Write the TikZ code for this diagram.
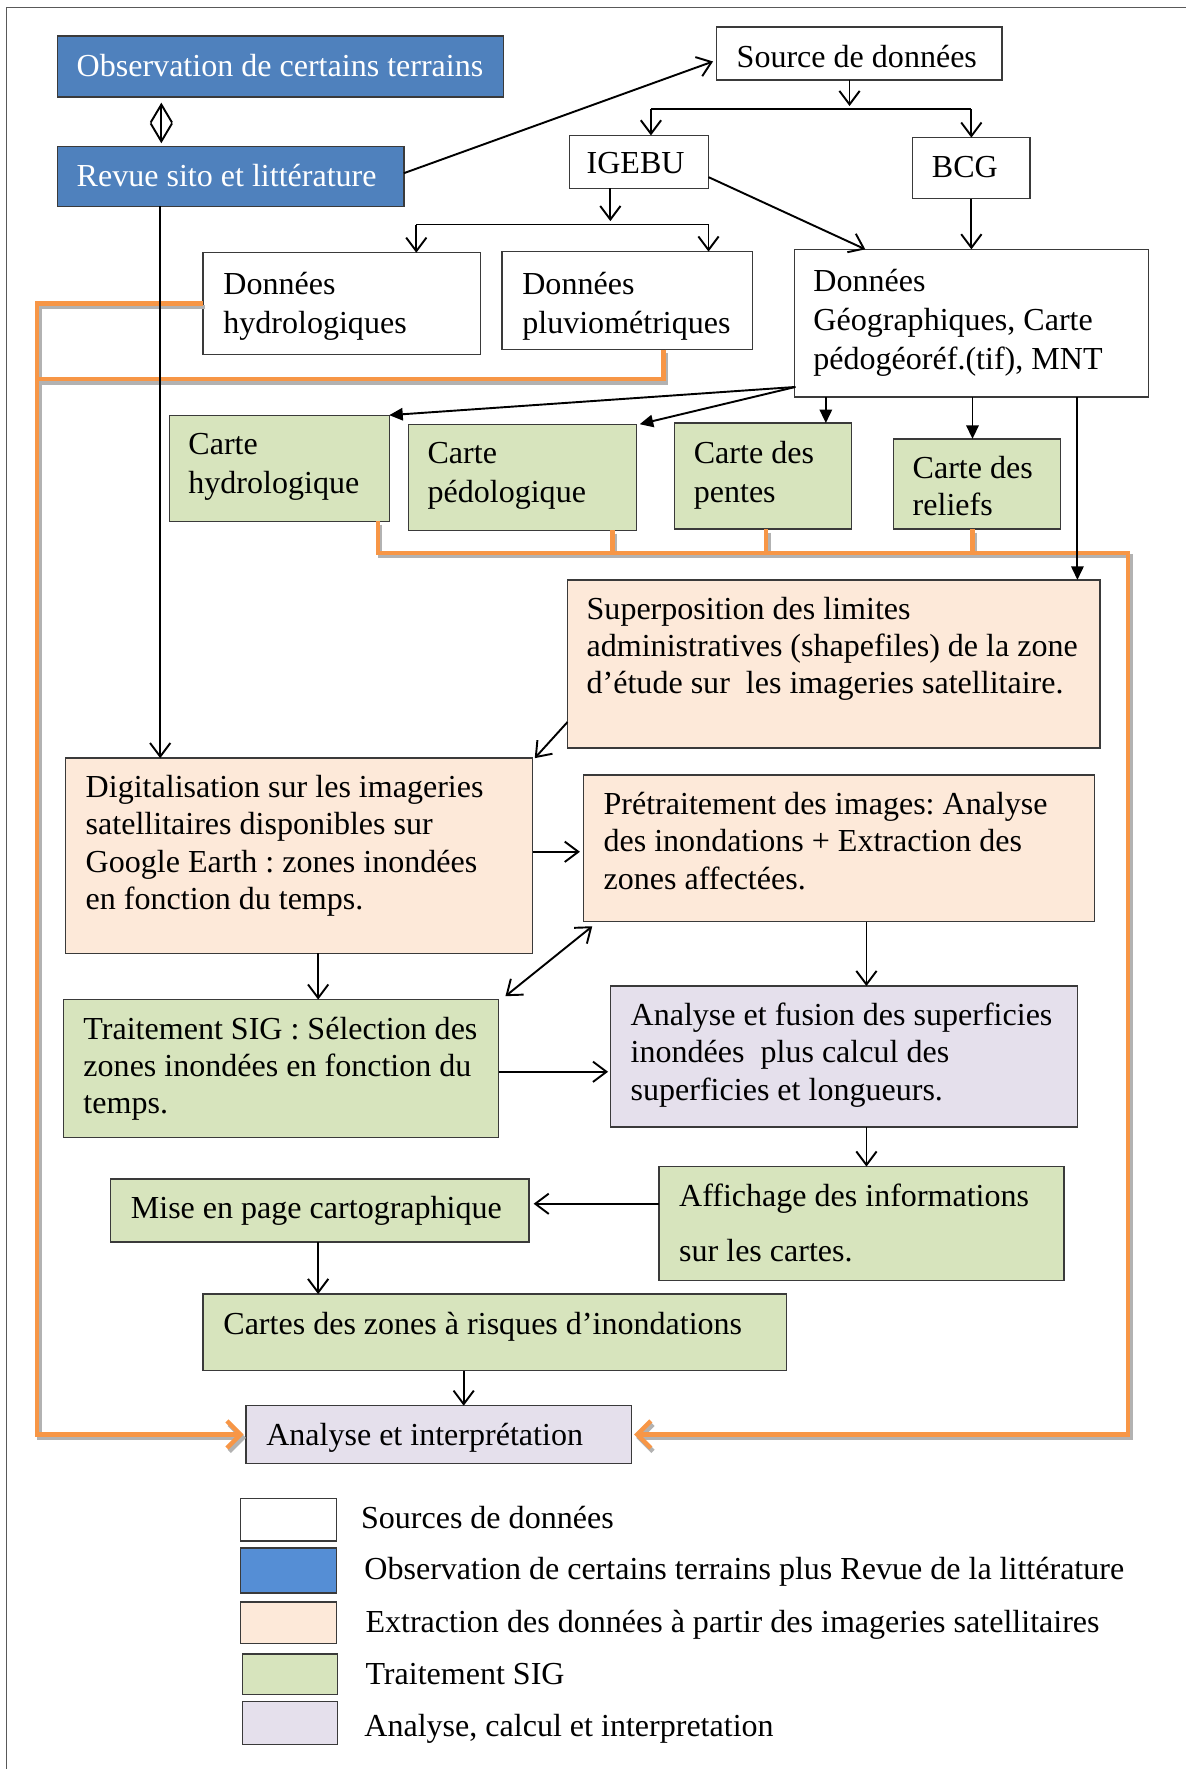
\documentclass[tikz,border=0pt]{standalone}
\usepackage{fontspec}
\setmainfont{Liberation Serif}
\usetikzlibrary{arrows.meta,calc}
\definecolor{cblue}{HTML}{4F81BD}
\definecolor{lblue}{HTML}{558ED5}
\definecolor{cpeach}{HTML}{FDE9D9}
\definecolor{cgreen}{HTML}{D7E4BD}
\definecolor{clav}{HTML}{E5E0EC}
\definecolor{corange}{HTML}{F79646}
\definecolor{cborder}{HTML}{3A3A3A}
\newcommand\orangeroutes[1]{%
  \draw[line width=4pt, draw=#1, line join=miter, -{Straight Barb[length=12pt,width=24pt]}, shorten >=2pt]
    (dhydro.west) -- (33,0 |- dhydro.west) -- (33,0 |- interp.west) -- (interp.west);
  \draw[line width=4pt, draw=#1, line join=miter]
    (588,0 |- dpluvio.south) -- (588,336) -- (33,336);
  \draw[line width=4pt, draw=#1, line join=miter, -{Straight Barb[length=12pt,width=24pt]}, shorten >=2pt]
    (335,0 |- chydro.south) -- (335,490) -- (1000,490) -- (1000,0 |- interp.east) -- (interp.east);
  \draw[line width=4pt, draw=#1] (543,0 |- cpedo.south) -- (543,490);
  \draw[line width=4pt, draw=#1] (679,0 |- cpentes.south) -- (679,490);
  \draw[line width=4pt, draw=#1] (862,0 |- creliefs.south) -- (862,490);
}
\begin{document}
\frenchspacing
\begin{tikzpicture}[x=1pt,y=-1pt,
  bx/.style 2 args={draw=cborder, line width=1.2pt, anchor=north west, inner sep=0pt, outer sep=0pt,
    minimum width=#1pt, minimum height=#2pt},
  txt/.style={anchor=north west, inner sep=0pt, outer sep=0pt, align=left,
    font=\fontsize{28.4}{33}\selectfont\frenchspacing},
  dl/.style={font=\fontsize{28.4}{34.5}\selectfont\frenchspacing},
  ln/.style={draw=black, line width=1.7pt},
  arr/.style={ln, -{Straight Barb[length=12pt,width=18pt]}},
  farr/.style={ln, -{Triangle[length=12pt,width=11pt]}},
  darr/.style={ln, {Straight Barb[length=12pt,width=18pt]}-{Straight Barb[length=12pt,width=18pt]}},
  kite/.style={ln, {Straight Barb[length=16pt,width=19pt]}-{Straight Barb[length=16pt,width=19pt]}}
]
\useasboundingbox (0,0) rectangle (1051,1568);
\draw[draw=gray!70!black, line width=1pt] (6,1568) -- (6,7) -- (1051,7);

% ---------- boxes ----------
\node[bx={395}{54}, fill=cblue] (obs) at (51,32) {};
\node[txt, text=white] (tobs) at (68,45) {\strut Observation de certains terrains};
\node[bx={307}{53}, fill=cblue] (revue) at (51,130) {};
\node[txt, text=white] (trevue) at (68,142) {\strut Revue sito et littérature};
\node[bx={253}{47}, fill=white] (source) at (635,24) {};
\node[txt] (tsource) at (653,37) {\strut Source de données};
\node[bx={123}{47}, fill=white] (igebu) at (505,120) {};
\node[txt] (tigebu) at (520,131) {\strut IGEBU};
\node[bx={104}{54}, fill=white] (bcg) at (809,122) {};
\node[txt] (tbcg) at (826,134) {\strut BCG};
\node[bx={246}{90}, fill=white] (dhydro) at (180,224) {};
\node[txt, dl] (tdhydro) at (198,237) {\strut Données\\hydrologiques};
\node[bx={222}{87}, fill=white] (dpluvio) at (445,223) {};
\node[txt, dl] (tdpluvio) at (463,237) {\strut Données\\pluviométriques};
\node[bx={314}{131}, fill=white] (geo) at (704,221) {};
\node[txt, dl] (tgeo) at (721,234) {\strut Données\\Géographiques, Carte\\pédogéoréf.(tif), MNT};

\node[bx={195}{94}, fill=cgreen] (chydro) at (150,368) {};
\node[txt, dl] (tchydro) at (167,379) {\strut Carte\\hydrologique};
\node[bx={202}{94}, fill=cgreen] (cpedo) at (362,376) {};
\node[txt, dl] (tcpedo) at (379,387) {\strut Carte\\pédologique};
\node[bx={157}{94}, fill=cgreen] (cpentes) at (598,375) {};
\node[txt, dl] (tcpentes) at (615,387) {\strut Carte des\\pentes};
\node[bx={148}{80}, fill=cgreen] (creliefs) at (792,389) {};
\node[txt] (tcreliefs) at (809,401) {\strut Carte des\\reliefs};

\node[bx={472}{149}, fill=cpeach] (superp) at (503,514) {};
\node[txt] (tsuperp) at (520,526) {\strut Superposition des limites\\administratives (shapefiles) de la zone\\d’étude sur\ \ les imageries satellitaire.};
\node[bx={414}{173}, fill=cpeach] (digit) at (58,672) {};
\node[txt] (tdigit) at (76,684) {\strut Digitalisation sur les imageries\\satellitaires disponibles sur\\Google Earth : zones inondées\\en fonction du temps.};
\node[bx={453}{130}, fill=cpeach] (pretr) at (517,687) {};
\node[txt] (tpretr) at (535,699) {\strut Prétraitement des images: Analyse\\des inondations + Extraction des\\zones affectées.};
\node[bx={386}{122}, fill=cgreen] (trsig) at (56,886) {};
\node[txt] (ttrsig) at (74,898) {\strut Traitement SIG : Sélection des\\zones inondées en fonction du\\temps.};
\node[bx={414}{125}, fill=clav] (fusion) at (541,874) {};
\node[txt] (tfusion) at (559,886) {\strut Analyse et fusion des superficies\\inondées\ \ plus calcul des\\superficies et longueurs.};
\node[bx={359}{101}, fill=cgreen] (affich) at (584,1034) {};
\node[txt] (taffich) at (602,1046) {\strut Affichage des informations\\[16pt]sur les cartes.};
\node[bx={371}{56}, fill=cgreen] (mise) at (98,1045) {};
\node[txt] (tmise) at (116,1057) {\strut Mise en page cartographique};
\node[bx={517}{68}, fill=cgreen] (cartes) at (180,1147) {};
\node[txt] (tcartes) at (198,1160) {\strut Cartes des zones à risques d’inondations};
\node[bx={342}{51}, fill=clav] (interp) at (218,1246) {};
\node[txt] (tinterp) at (236,1258) {\strut Analyse et interprétation};

% ---------- legend ----------
\node[bx={85}{38}, fill=white] (l1) at (213,1328) {};
\node[txt] (tl1) at (320,1332) {\strut Sources de données};
\node[bx={85}{40}, fill=lblue] (l2) at (213,1372) {};
\node[txt] (tl2) at (323,1377) {\strut Observation de certains terrains plus Revue de la littérature};
\node[bx={85}{37}, fill=cpeach] (l3) at (213,1420) {};
\node[txt] (tl3) at (324,1424) {\strut Extraction des données à partir des imageries satellitaires};
\node[bx={84}{36}, fill=cgreen] (l4) at (215,1466) {};
\node[txt] (tl4) at (324,1470) {\strut Traitement SIG};
\node[bx={84}{38}, fill=clav] (l5) at (215,1508) {};
\node[txt] (tl5) at (323,1516) {\strut Analyse, calcul et interpretation};

% ---------- orange routes with shadow ----------
\begin{scope}[transform canvas={shift={(2pt,-3pt)}}]
  \orangeroutes{gray!60}
\end{scope}
\orangeroutes{corange}

% ---------- black connectors ----------
\draw[kite] ($(143,0 |- obs.south)+(0,5)$) -- ($(143,0 |- revue.north)+(0,-3)$);
\draw[arr] ($(revue.east)+(0,-3)$) -- ($(source.west)+(-3,7)$);
\draw[arr] (753,0 |- source.south) -- (753,94);
\coordinate (sl) at (577,97);
\coordinate (sr) at (861,97);
\draw[ln] (sl) -- (sr);
\draw[arr] (sl) -- (577,0 |- igebu.north);
\draw[arr] (sr) -- (861,0 |- bcg.north);
\draw[arr] (541,0 |- igebu.south) -- (541,196);
\coordinate (il) at (369,199);
\coordinate (ir) at (628,199);
\draw[ln] (il) -- (ir);
\draw[arr] (il) -- (369,0 |- dhydro.north);
\draw[arr] (ir) -- (628,0 |- dpluvio.north);
\draw[arr] ($(igebu.south east)+(0,-10)$) -- (767,0 |- geo.north);
\draw[arr] (861,0 |- bcg.south) -- (861,0 |- geo.north);

\draw[farr] ($(geo.south west)+(1,-9)$) -- (chydro.north east);
\draw[farr] ($(geo.south west)+(1,-9)$) -- ($(cpedo.north east)+(3,0)$);
\draw[farr] (732,0 |- geo.south) -- (732,0 |- cpentes.north);
\draw[farr] (862,0 |- geo.south) -- (862,0 |- creliefs.north);
\draw[farr] (955,0 |- geo.south) -- (955,0 |- superp.north);

\draw[arr] (142,0 |- revue.south) -- (142,0 |- digit.north);
\draw[arr] ($(superp.south west)+(0,-23)$) -- ($(digit.north east)+(2,0)$);
\draw[arr, shorten >=3pt] (digit.east |- 0,755) -- (pretr.west |- 0,755);
\draw[darr] ($(trsig.north east)+(6,-3)$) -- ($(pretr.south west)+(8,4)$);
\draw[arr] (282,0 |- digit.south) -- (282,0 |- trsig.north);
\draw[arr, shorten >=2pt] (trsig.east |- 0,950) -- (fusion.west |- 0,950);
\draw[arr] (768,0 |- pretr.south) -- (768,0 |- fusion.north);
\draw[arr] (768,0 |- fusion.south) -- (768,0 |- affich.north);
\draw[arr, shorten >=4pt] (affich.west |- 0,1067) -- (mise.east |- 0,1067);
\draw[arr] (282,0 |- mise.south) -- (282,0 |- cartes.north);
\draw[arr] (411,0 |- cartes.south) -- (411,0 |- interp.north);
\end{tikzpicture}
\end{document}
